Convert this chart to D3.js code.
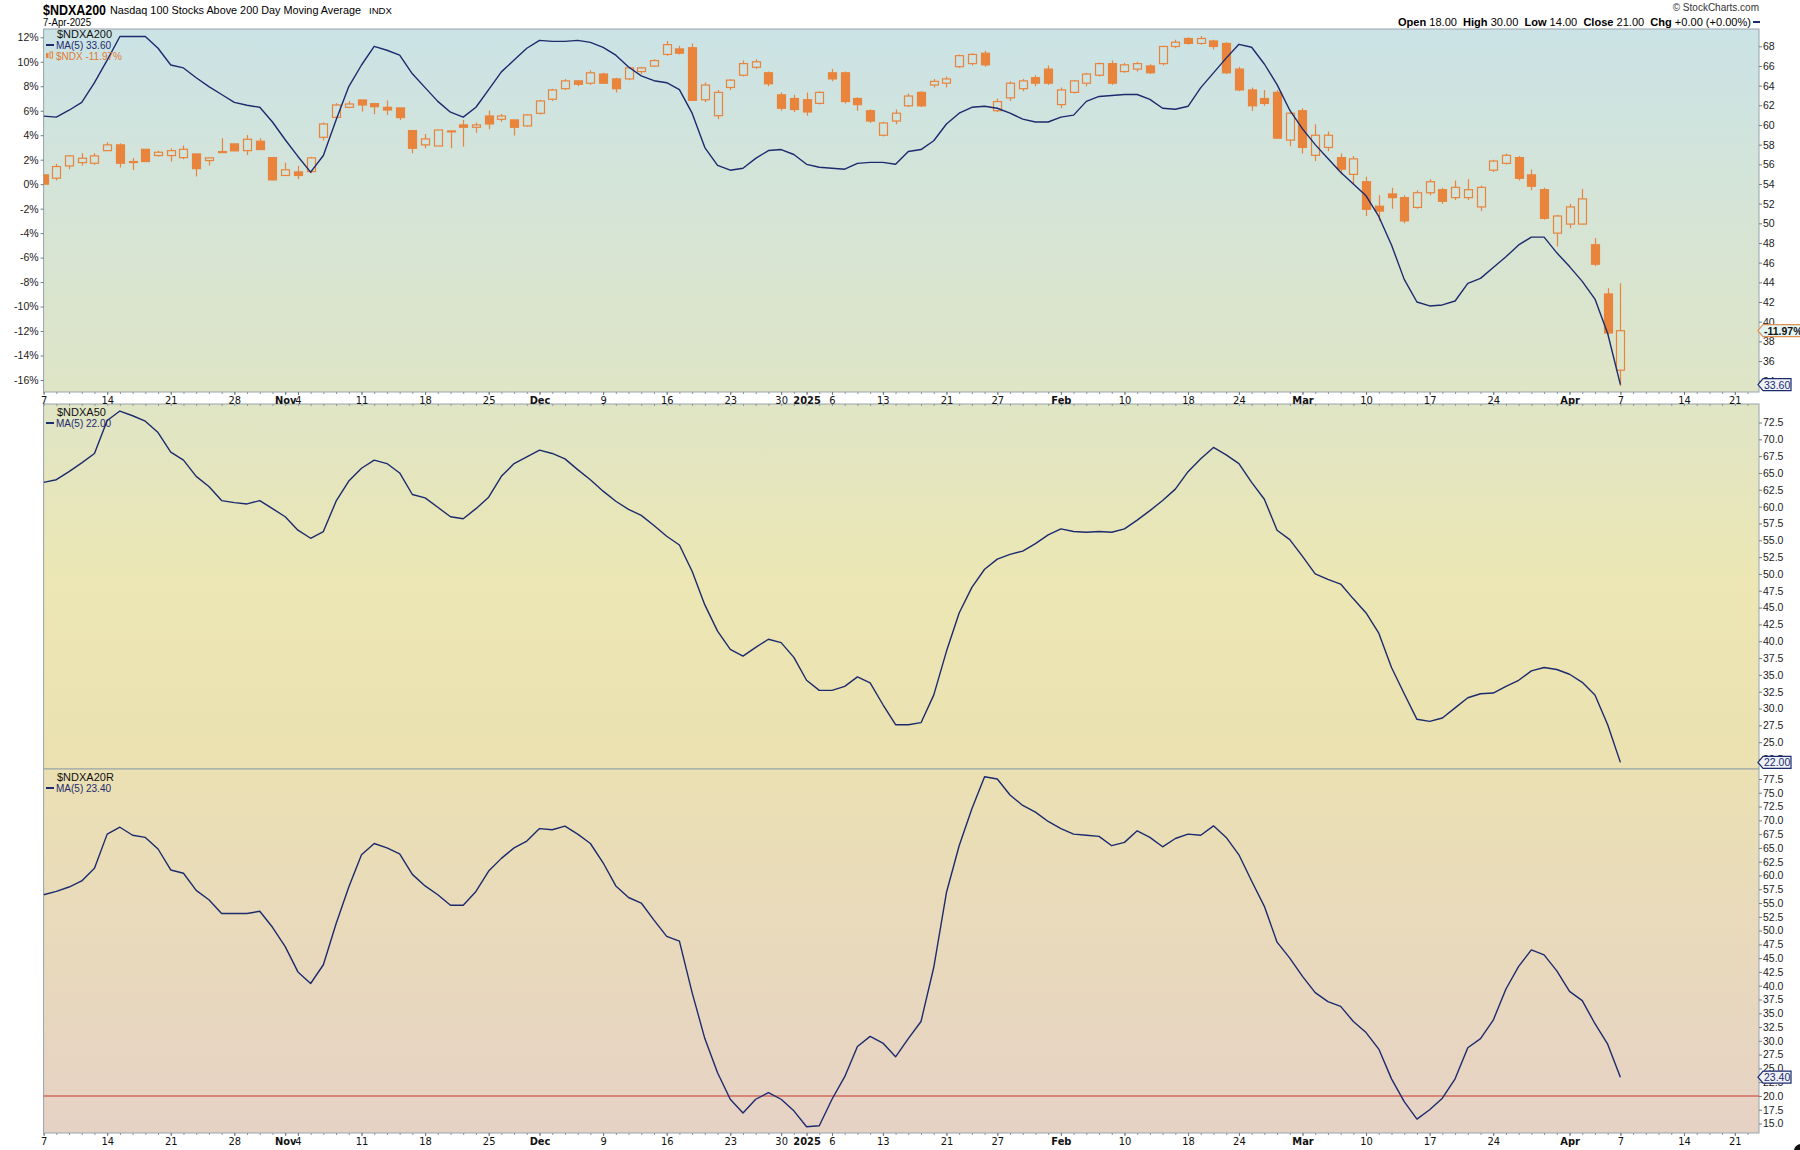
<!DOCTYPE html>
<html><head><meta charset="utf-8">
<script src="https://cdn.jsdelivr.net/npm/d3@7"></script>
<style>
body{margin:0;background:#fff}
svg text{font-family:"Liberation Sans",Arial,sans-serif}
.xl text{font-family:"Liberation Sans Narrow","DejaVu Sans",sans-serif;font-stretch:condensed}
</style>
</head><body>
<svg id="c" width="1800" height="1150"></svg>
<script>
// ---------- DATA ----------
const tickIdx  = [0,5,10,15,19,20,25,30,35,39,44,49,54,58,60,62,66,71,75,80,85,90,94,99,104,109,114,120,124,129,133];
const tickText = ["7","14","21","28","Nov","4","11","18","25","Dec","9","16","23","30","2025","6","13","21","27","Feb","10","18","24","Mar","10","17","24","Apr","7","14","21"];
const boldTicks = ["Nov","Dec","2025","Feb","Mar","Apr"];

const ndxOpen = [0.76,0.49,1.49,1.76,1.71,2.74,3.21,1.85,2.85,2.34,
2.34,2.17,2.47,1.93,2.66,3.29,2.74,3.51,2.17,0.71,
1.0,1.03,3.83,5.46,6.28,6.88,6.58,6.28,6.23,4.38,
3.21,3.12,4.35,4.84,4.65,5.57,5.3,5.25,4.76,5.79,
6.94,7.8,8.44,8.25,9.0,8.6,8.6,9.2,9.65,10.6,
11.05,11.15,6.9,5.6,7.9,8.9,9.55,9.1,7.3,7.0,
6.9,6.6,9.1,9.1,7.0,6.0,4.0,5.16,6.4,7.5,
8.1,8.25,9.6,9.85,10.7,6.0,7.05,7.8,8.7,9.4,
6.5,7.5,8.25,8.9,9.85,9.2,9.4,9.66,9.85,11.25,
11.9,11.5,11.7,11.5,9.4,7.7,7.0,7.5,3.6,6.0,
2.36,3.0,2.17,0.8,0.2,-1.8,-0.8,-1.1,-1.9,-0.7,
-0.45,-1.1,-1.1,-1.86,1.14,1.7,2.17,0.76,-0.45,-4.0,
-3.26,-3.26,-4.95,-8.97,-15.2];
const ndxHigh = [0.8,1.66,2.39,2.53,2.53,3.42,3.34,2.12,2.85,2.74,
2.93,3.15,2.47,2.15,3.75,3.29,4.02,3.75,2.17,1.76,
1.5,2.25,5.03,6.61,6.8,6.88,6.58,6.83,6.23,4.38,
4.1,4.43,4.35,5.25,5.03,6.01,5.74,5.25,5.71,6.9,
7.8,8.6,8.5,9.3,9.1,8.7,9.6,9.6,10.2,11.7,
11.3,11.5,8.3,7.7,8.6,10.1,10.2,9.2,7.5,7.3,
7.5,7.6,9.4,9.2,7.1,6.1,5.1,6.1,7.4,7.6,
8.6,8.8,10.6,10.7,10.9,7.0,8.4,8.6,8.9,9.7,
7.9,8.5,9.1,9.95,10.1,9.9,10.0,9.8,11.3,11.8,
12.0,12.1,11.8,11.6,9.6,7.9,7.7,7.7,5.9,6.2,
4.9,4.3,2.5,2.3,0.6,-0.9,-0.3,-0.9,-0.5,0.4,
-0.3,0.3,0.4,-0.1,2.0,2.5,2.3,1.2,-0.3,-2.5,
-1.6,-0.4,-4.4,-8.5,-8.1];
const ndxLow = [0,0.29,1.22,1.52,1.57,2.72,1.36,1.16,1.85,2.25,
1.85,2.04,0.62,1.52,2.58,2.72,2.39,2.83,0.29,0.71,
0.41,0.9,3.56,5.46,6.2,5.93,5.71,5.66,5.25,2.53,
2.93,3.12,2.93,3.07,4.21,4.48,5.11,3.97,4.7,5.7,
6.8,7.7,8.0,8.1,8.2,7.5,8.5,9.0,9.6,10.5,
10.6,6.8,6.7,5.3,7.7,8.8,9.4,8.0,6.0,5.9,
5.6,6.5,8.4,6.6,6.0,5.0,3.9,4.9,6.3,6.3,
7.9,7.9,9.5,9.7,9.6,5.9,6.8,7.6,8.0,8.1,
6.2,7.4,8.0,8.8,8.1,9.1,9.2,9.0,9.7,11.1,
11.4,11.4,11.0,9.0,7.6,6.0,6.4,3.7,3.1,2.5,
1.9,2.7,0.8,0.0,-2.6,-3.0,-2.0,-3.2,-2.0,-0.9,
-1.6,-1.3,-1.3,-2.2,1.0,1.6,0.3,-0.5,-2.9,-5.1,
-3.6,-3.3,-6.7,-12.3,-16.5];
const ndxClose = [0,1.44,2.31,2.12,2.31,3.21,1.71,1.8,1.85,2.61,
2.74,2.85,1.27,2.15,2.61,2.72,3.67,2.83,0.35,1.17,
0.71,2.15,4.92,6.47,6.55,6.47,6.33,6.06,5.44,2.93,
3.7,4.43,4.27,4.65,4.84,4.92,5.57,4.65,5.66,6.8,
7.7,8.44,8.16,9.1,8.25,7.8,9.5,9.5,10.1,11.4,
10.7,6.85,8.1,7.5,8.5,9.85,10.0,8.2,6.2,6.1,
5.9,7.5,8.6,6.75,6.5,5.16,5.0,5.8,7.2,6.4,
8.4,8.6,10.5,10.6,9.75,6.75,8.25,8.44,8.25,8.25,
7.7,8.44,9.0,9.85,8.25,9.75,9.85,9.1,11.25,11.6,
11.5,11.9,11.25,9.1,7.7,6.4,6.6,3.76,5.8,3.0,
4.0,4.0,1.23,2.07,-2.05,-2.2,-1.1,-3.0,-0.7,0.2,
-1.4,-0.26,-0.45,-0.26,1.89,2.36,0.48,-0.17,-2.79,-2.6,
-1.86,-1.2,-6.54,-12.16,-11.97];

const ma200 = [60.9,60.8,61.5,62.3,64.3,66.6,69.0,69.0,69.0,67.8,
66.1,65.8,64.8,63.9,63.1,62.3,62.0,61.8,60.3,58.5,
56.8,55.2,56.9,60.5,63.9,66.1,68.0,67.6,67.1,65.2,
63.8,62.4,61.3,60.8,61.8,63.6,65.4,66.6,67.8,68.6,
68.5,68.5,68.6,68.4,67.9,67.1,65.9,65.0,64.5,64.3,
63.6,61.2,57.7,55.9,55.4,55.6,56.6,57.4,57.5,57.0,
56.0,55.7,55.6,55.5,56.1,56.2,56.2,56.0,57.3,57.5,
58.4,60.1,61.2,61.8,61.9,61.7,61.2,60.6,60.3,60.3,
60.8,61.0,62.4,62.9,63.0,63.1,63.1,62.6,61.7,61.6,
61.9,63.8,65.3,66.8,68.2,67.9,66.2,64.1,61.5,59.6,
58.0,56.6,55.2,54.0,52.8,50.7,47.8,44.3,42.0,41.6,
41.7,42.1,43.9,44.4,45.5,46.6,47.8,48.6,48.6,47.0,
45.6,44.1,42.3,38.8,33.6];
const ma50 = [63.6,64.0,65.2,66.5,67.9,72.8,74.2,73.5,72.7,71.0,
68.1,66.9,64.5,63.0,60.9,60.6,60.4,60.9,59.7,58.5,
56.5,55.3,56.3,60.8,63.8,65.7,66.9,66.4,65.0,61.8,
61.3,59.9,58.5,58.2,59.7,61.4,64.5,66.4,67.4,68.4,
67.9,67.1,65.5,64.0,62.3,60.8,59.6,58.7,57.2,55.6,
54.3,50.4,45.4,41.5,38.8,37.8,39.1,40.3,39.8,37.6,
34.2,32.7,32.7,33.3,34.7,33.8,30.6,27.6,27.6,27.9,
32.0,38.5,44.2,48.0,50.7,52.2,52.9,53.4,54.5,55.8,
56.7,56.3,56.2,56.3,56.2,56.7,58.0,59.4,60.9,62.6,
65.2,67.1,68.8,67.7,66.4,63.6,61.1,56.5,55.1,52.6,
50.0,49.2,48.5,46.3,44.2,41.2,36.1,32.2,28.4,28.1,
28.6,30.1,31.6,32.2,32.3,33.3,34.2,35.6,36.1,35.8,
35.1,33.9,32.0,27.6,22.0];
const ma20r = [56.5,57.1,57.9,59.0,61.3,67.5,68.75,67.3,66.9,64.8,
61.0,60.4,57.3,55.6,53.1,53.1,53.1,53.5,50.6,47.1,
42.5,40.4,43.8,51.25,57.9,63.75,65.8,65.0,63.9,60.2,
58.1,56.5,54.6,54.6,57.1,60.8,63.1,65.0,66.25,68.5,
68.3,68.96,67.5,65.8,62.3,58.1,56.0,55.0,51.9,48.96,
48.1,38.75,30.4,24.2,19.4,16.9,19.4,20.6,19.4,17.3,
14.4,14.6,19.4,23.5,28.96,30.8,29.6,27.1,30.4,33.5,
43.3,56.9,65.4,72.1,77.9,77.5,74.6,72.7,71.5,69.8,
68.5,67.5,67.3,67.1,65.4,66.0,68.1,66.9,65.2,66.7,
67.5,67.3,69.0,66.9,63.75,59.0,54.4,47.9,45.0,41.7,
38.75,37.1,36.25,33.5,31.5,28.5,23.1,18.96,15.8,17.5,
19.6,23.1,28.75,30.4,33.75,39.4,43.5,46.5,45.6,42.7,
38.96,37.3,33.1,29.4,23.4];

// ---------- LAYOUT ----------
const L = 43.6, R = 1759;
const P1 = {t:29, b:392}, P2 = {t:404, b:769}, P3 = {t:769, b:1133};
const ORANGE = "#e8843c", NAVY = "#1c2a6e", BORDER = "#97a4aa";

const x    = d3.scaleLinear().domain([0,134.9]).range([L,R]);
const yPct = d3.scaleLinear().domain([-16,12]).range([380,37.3]);
const yA   = d3.scaleLinear().domain([36,68]).range([361,46.3]);
const y50  = d3.scaleLinear().domain([25,72.5]).range([742.2,422.5]);
const y20  = d3.scaleLinear().domain([15,77.5]).range([1123.5,779]);

const svg = d3.select("#c");
const defs = svg.append("defs");
const g = defs.append("linearGradient").attr("id","bg").attr("gradientUnits","userSpaceOnUse")
  .attr("x1",0).attr("x2",0).attr("y1",P1.t).attr("y2",P3.b);
[[0,"#cbe3e6"],[0.33,"#dfe5c6"],[0.36,"#e1e5c3"],[0.5,"#ece7b4"],[0.66,"#ebe1b1"],[0.7,"#eadfb5"],[1,"#e6d2c5"]]
  .forEach(([o,c])=>g.append("stop").attr("offset",o).attr("stop-color",c));
[["c1",P1],["c2",P2],["c3",P3]].forEach(([id,p])=>{
  defs.append("clipPath").attr("id",id).append("rect").attr("x",L).attr("y",p.t).attr("width",R-L).attr("height",p.b-p.t);
});

[P1,P2,P3].forEach(p=>{
  svg.append("rect").attr("x",L).attr("y",p.t).attr("width",R-L).attr("height",p.b-p.t)
    .attr("fill","url(#bg)").attr("stroke",BORDER).attr("stroke-width",1);
});

// red reference line panel 3
svg.append("line").attr("x1",L).attr("x2",R).attr("y1",y20(20)).attr("y2",y20(20))
  .attr("stroke","#c8382c").attr("stroke-width",1.1);

// ---------- candles ----------
const cg = svg.append("g").attr("clip-path","url(#c1)");
const bw = 8;
ndxOpen.forEach((o,i)=>{
  const c = ndxClose[i], h = ndxHigh[i], l = ndxLow[i];
  const top = yPct(Math.max(o,c)), bot = yPct(Math.min(o,c));
  const cx = Math.round(x(i))+0.5;
  cg.append("line").attr("x1",cx).attr("x2",cx).attr("y1",yPct(h)).attr("y2",top).attr("stroke",ORANGE).attr("stroke-width",1.2);
  cg.append("line").attr("x1",cx).attr("x2",cx).attr("y1",bot).attr("y2",yPct(l)).attr("stroke",ORANGE).attr("stroke-width",1.2);
  cg.append("rect").attr("x",cx-bw/2).attr("y",top).attr("width",bw).attr("height",Math.max(1,bot-top))
    .attr("fill", c<o ? ORANGE : "none").attr("stroke",ORANGE).attr("stroke-width",1.2);
});

// ---------- MA lines ----------
function drawLine(data, y, clip){
  svg.append("path").attr("clip-path",`url(#${clip})`).datum(data)
    .attr("d", d3.line().x((d,i)=>x(i)).y(d=>y(d)))
    .attr("fill","none").attr("stroke",NAVY).attr("stroke-width",1.4).attr("stroke-linejoin","round");
}
drawLine(ma200, yA, "c1");
drawLine(ma50, y50, "c2");
drawLine(ma20r, y20, "c3");

// ---------- axes ----------
function styleAxis(sel, size){
  sel.select(".domain").remove();
  sel.selectAll(".tick line").attr("stroke","#6f7b80");
  sel.selectAll(".tick text").attr("font-size",size).attr("fill","#1a1a1a");
}
svg.append("g").attr("transform",`translate(${R},0)`)
  .call(d3.axisRight(yA).tickValues(d3.range(34,69,2)).tickSize(3).tickPadding(1))
  .call(s=>styleAxis(s,"10.5px"));
svg.append("g").attr("transform",`translate(${L},0)`)
  .call(d3.axisLeft(yPct).tickValues(d3.range(-16,13,2)).tickSize(3).tickPadding(2).tickFormat(d=>d+"%"))
  .call(s=>styleAxis(s,"10.5px"));
svg.append("g").attr("transform",`translate(${R},0)`)
  .call(d3.axisRight(y50).tickValues(d3.range(22.5,73,2.5)).tickSize(3).tickPadding(1).tickFormat(d3.format(".1f")))
  .call(s=>styleAxis(s,"10.5px"));
svg.append("g").attr("transform",`translate(${R},0)`)
  .call(d3.axisRight(y20).tickValues(d3.range(15,78,2.5)).tickSize(3).tickPadding(1).tickFormat(d3.format(".1f")))
  .call(s=>styleAxis(s,"10.5px"));

// x axes (two rows)
const allDays = d3.range(0,135);
[P1.b, P3.b].forEach(yb=>{
  svg.append("g").attr("transform",`translate(0,${yb})`)
    .call(d3.axisBottom(x).tickValues(allDays).tickSize(2).tickFormat(""))
    .call(s=>{s.select(".domain").remove(); s.selectAll(".tick line").attr("stroke","#8a969b");});
  const ax = svg.append("g").attr("class","xl").attr("transform",`translate(0,${yb})`)
    .call(d3.axisBottom(x).tickValues(tickIdx).tickSize(3).tickPadding(1).tickFormat((d,k)=>tickText[k]));
  ax.select(".domain").remove();
  ax.selectAll(".tick line").attr("stroke","#6f7b80");
  ax.selectAll(".tick text").attr("font-size","11px").attr("fill","#111")
    .attr("font-weight",(d,k)=>boldTicks.includes(tickText[k])?"bold":"normal");
});
svg.append("g").attr("transform",`translate(0,${P2.t})`)
  .call(d3.axisTop(x).tickValues(allDays).tickSize(-2).tickFormat(""))
  .call(s=>{s.select(".domain").remove(); s.selectAll(".tick line").attr("stroke","#8a969b");});

// ---------- value tags ----------
function tag(yv, text, stroke, fill, bold, w){
  const gg = svg.append("g");
  const h = 12, x0 = R-1;
  gg.append("path").attr("d",`M${x0},${yv} L${x0+5},${yv-h/2} L${x0+5+w},${yv-h/2} L${x0+5+w},${yv+h/2} L${x0+5},${yv+h/2} Z`)
    .attr("fill",fill).attr("stroke",stroke).attr("stroke-width",1.2);
  gg.append("text").attr("x",x0+6).attr("y",yv+4).attr("font-size","10.5px").attr("fill",bold?"#111":NAVY)
    .attr("font-weight",bold?"bold":"normal").text(text);
}
tag(yA(33.6), "33.60", NAVY, "#eef2f6", false, 28);
tag(yPct(-11.97), "-11.97%", "#e0904f", "#e4f6f6", true, 42);
tag(y50(22), "22.00", NAVY, "#eef2f6", false, 28);
tag(y20(23.4), "23.40", NAVY, "#eef2f6", false, 28);

// ---------- legends ----------
function legend(y0, sym, ma){
  svg.append("text").attr("x",57).attr("y",y0).attr("font-size","11px").attr("fill","#111").text(sym);
  svg.append("line").attr("x1",46).attr("x2",54).attr("y1",y0+7).attr("y2",y0+7).attr("stroke",NAVY).attr("stroke-width",2);
  svg.append("text").attr("x",56).attr("y",y0+11).attr("font-size","10px").attr("fill",NAVY).text(ma);
}
legend(38, "$NDXA200", "MA(5) 33.60");
legend(416, "$NDXA50", "MA(5) 22.00");
legend(781, "$NDXA20R", "MA(5) 23.40");
svg.append("rect").attr("x",46).attr("y",53).attr("width",2.5).attr("height",5).attr("fill",ORANGE);
svg.append("rect").attr("x",50).attr("y",52).attr("width",2.5).attr("height",6).attr("fill","none").attr("stroke",ORANGE).attr("stroke-width",1);
svg.append("text").attr("x",56).attr("y",60).attr("font-size","10px").attr("fill","#e07a35").text("$NDX -11.97%");

// ---------- header ----------
svg.append("text").attr("x",43).attr("y",14.5).attr("font-size","14.5px").attr("font-weight","bold")
  .attr("textLength",63).attr("lengthAdjust","spacingAndGlyphs").attr("fill","#000").text("$NDXA200");
svg.append("text").attr("x",110).attr("y",14).attr("font-size","11.5px")
  .attr("textLength",251).attr("lengthAdjust","spacingAndGlyphs").attr("fill","#000").text("Nasdaq 100 Stocks Above 200 Day Moving Average");
svg.append("text").attr("x",369).attr("y",14).attr("font-size","9.5px")
  .attr("textLength",23).attr("lengthAdjust","spacingAndGlyphs").attr("fill","#000").text("INDX");
svg.append("text").attr("x",43).attr("y",25.5).attr("font-size","11px")
  .attr("textLength",48).attr("lengthAdjust","spacingAndGlyphs").attr("fill","#000").text("7-Apr-2025");

svg.append("text").attr("x",1759).attr("y",11).attr("font-size","10px").attr("text-anchor","end").attr("fill","#333").text("© StockCharts.com");
const hd = svg.append("text").attr("x",1398).attr("y",26).attr("font-size","11px").attr("fill","#000")
  .attr("textLength",353).attr("lengthAdjust","spacingAndGlyphs").attr("style","white-space:pre");
[["Open",1],[" 18.00  ",0],["High",1],[" 30.00  ",0],["Low",1],[" 14.00  ",0],["Close",1],[" 21.00  ",0],["Chg",1],[" +0.00 (+0.00%)",0]]
  .forEach(([t,b])=>hd.append("tspan").attr("font-weight",b?"bold":"normal").text(t));
svg.append("line").attr("x1",1753).attr("x2",1760).attr("y1",22).attr("y2",22).attr("stroke",NAVY).attr("stroke-width",2);

// corner blob
svg.append("circle").attr("cx",1801).attr("cy",1151).attr("r",7).attr("fill","#111");
</script>
</body></html>
